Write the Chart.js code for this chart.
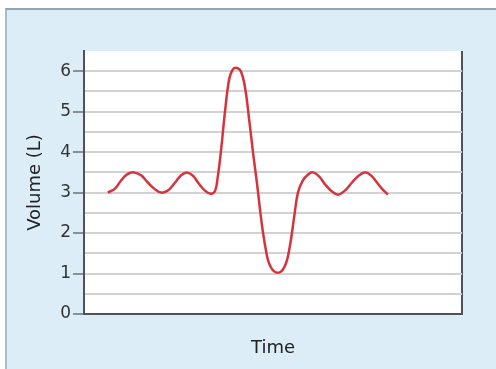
<!DOCTYPE html>
<html>
<head>
<meta charset="utf-8">
<script src="https://cdn.jsdelivr.net/npm/chart.js@4/dist/chart.umd.min.js"></script>
<style>
  html, body { margin:0; padding:0; background:#ffffff; }
  #wrap { position:relative; width:496px; height:369px; overflow:hidden; }
  #panel { position:absolute; left:5px; top:8px; width:600px; height:500px;
           background:#dcedf8; border-top:2px solid #8fa3b3; border-left:2px solid #a9bccb; }
  #c { position:absolute; left:0; top:0; }
</style>
</head>
<body>
<div id="wrap">
  <div id="panel"></div>
  <canvas id="c" width="496" height="369"></canvas>
</div>
<script>
// Time (arbitrary units, 0–100 across the plot) and volume (L)
const time   = [6.3, 8.2, 9.8, 11.4, 13.2, 15.1, 16.9, 18.8, 20.4, 22.2, 24.1, 25.7, 27.2, 28.8, 30.4, 32.0, 33.6, 34.7, 35.4, 36.2, 37.3, 38.4, 39.4, 40.5, 41.5, 42.6, 43.7, 44.7, 45.8, 46.8, 47.9, 49.2, 51.3, 53.2, 54.5, 55.6, 56.6, 57.9, 59.3, 60.6, 62.2, 63.8, 65.6, 67.2, 69.0, 70.9, 72.8, 74.6, 76.2, 77.5, 78.8, 80.4];
const volume = [3.0, 3.1, 3.3, 3.45, 3.5, 3.43, 3.25, 3.08, 3.0, 3.05, 3.25, 3.43, 3.5, 3.42, 3.22, 3.05, 2.97, 3.05, 3.4, 4.0, 5.0, 5.8, 6.05, 6.08, 6.0, 5.6, 4.8, 4.0, 3.2, 2.4, 1.7, 1.2, 1.02, 1.2, 1.7, 2.4, 3.0, 3.3, 3.45, 3.5, 3.4, 3.2, 3.03, 2.95, 3.05, 3.25, 3.43, 3.5, 3.4, 3.25, 3.1, 2.95];
const yTickLabels = ['0', '1', '2', '3', '4', '5', '6'];
const yAxisTitle = 'Volume (L)';
const xAxisTitle = 'Time';

const points = time.map((t, i) => ({ x: t, y: volume[i] }));
const FONT = 'DejaVu Sans';

const areaBg = {
  id: 'areaBg',
  beforeDraw(chart) {
    const { ctx, chartArea: a } = chart;
    ctx.save();
    ctx.fillStyle = '#ffffff';
    ctx.fillRect(a.left, a.top, a.right - a.left, a.bottom - a.top);
    ctx.restore();
  }
};

new Chart(document.getElementById('c'), {
  type: 'line',
  data: {
    datasets: [{
      data: points,
      borderColor: '#d6343d',
      borderWidth: 2.5,
      pointRadius: 0,
      fill: false,
      tension: 0.4
    }]
  },
  options: {
    responsive: false,
    animation: false,
    layout: { padding: { left: 0, top: 51, right: 34, bottom: 0 } },
    plugins: { legend: { display: false }, tooltip: { enabled: false } },
    scales: {
      x: {
        type: 'linear',
        min: 0, max: 100,
        ticks: { display: false, stepSize: 100 },
        grid: {
          drawTicks: false,
          color: ctx => (ctx.tick && ctx.tick.value === 100) ? '#4d5358' : 'rgba(0,0,0,0)',
          lineWidth: 2
        },
        border: { display: true, color: '#4d5358', width: 2 },
        title: {
          display: true, text: xAxisTitle, color: '#222',
          font: { family: FONT, size: 18 },
          padding: { top: 0, bottom: 10 }
        },
        afterFit: s => { s.height = 55; }
      },
      y: {
        type: 'linear',
        min: 0, max: 6.5,
        ticks: {
          stepSize: 0.5,
          maxTicksLimit: 30,
          autoSkip: false,
          padding: 2,
          color: '#333',
          font: { family: FONT, size: 17 },
          callback: v => Number.isInteger(v) ? yTickLabels[v] : ''
        },
        grid: {
          color: ctx => (ctx.tick && (ctx.tick.value === 6.5)) ? 'rgba(0,0,0,0)' : '#d2d2d2',
          lineWidth: 2,
          tickLength: 11,
          tickColor: ctx => (ctx.tick && Number.isInteger(ctx.tick.value)) ? '#6b7177' : 'rgba(0,0,0,0)',
          tickWidth: 1.5
        },
        border: { display: true, color: '#4d5358', width: 2 },
        title: {
          display: true, text: yAxisTitle, color: '#222',
          font: { family: FONT, size: 18 },
          padding: { top: 25, bottom: 0 }
        },
        afterFit: s => { s.width = 84; }
      }
    }
  },
  plugins: [areaBg]
});
</script>
</body>
</html>
